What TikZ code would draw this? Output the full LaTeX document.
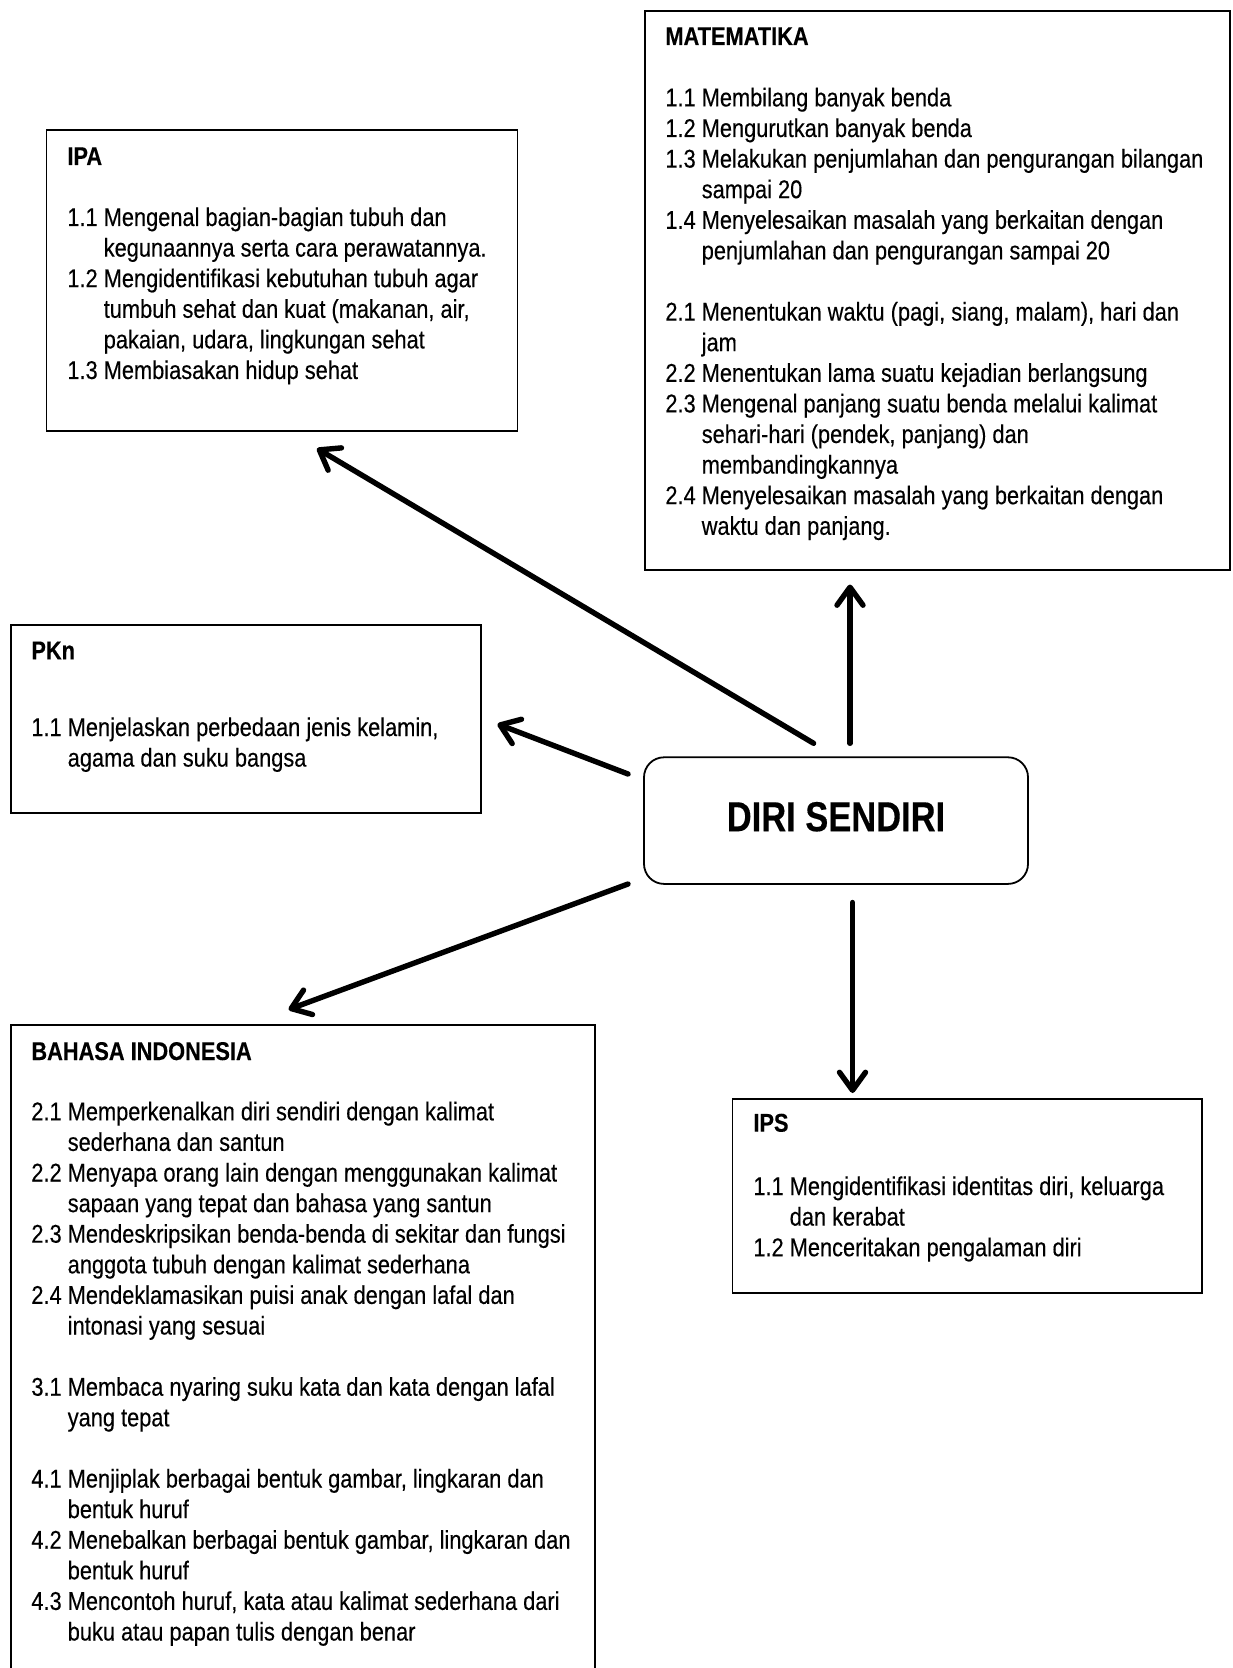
\documentclass[tikz,border=0pt]{standalone}
\usepackage{fontspec}
\setmainfont[FakeStretch=0.848,
  UprightFeatures={FakeBold=0.3},
  BoldFeatures={FakeBold=0.25}]{Liberation Sans}
\newfontfamily\bigfont[FakeStretch=0.823, BoldFeatures={FakeBold=0.3}]{Liberation Sans}
\usetikzlibrary{arrows.meta}

\begin{document}
\begin{tikzpicture}[x=0.5pt,y=-0.5pt,
  box/.style={draw, line width=0.9pt, rectangle, inner sep=0pt, anchor=north west},
  body/.style={anchor=base west, inner sep=0pt, align=left,
    font=\fontsize{12.85}{15.3}\selectfont},
  title/.style={anchor=base west, inner sep=0pt,
    font=\fontsize{12.85}{15.3}\selectfont\bfseries},
  link/.style={line width=2.7pt, line cap=round,
    -{Straight Barb[length=9pt,width=13pt,round]}}]

\clip (0,0) rectangle (1232,1668);
\fill[white] (0,0) rectangle (1232,1668);

% ---------- subject boxes ----------
\node[box, minimum width=235.5pt, minimum height=150.4pt] (ipa) at (45.5,129.3) {};
\node[title] (ipaT) at (67,165) {IPA};
\node[body] (ipaL) at (67,226) {\begin{tabular}[t]{@{}l@{\ }l@{}}
1.1 & Mengenal bagian-bagian tubuh dan\\
    & kegunaannya serta cara perawatannya.\\
1.2 & Mengidentifikasi kebutuhan tubuh agar\\
    & tumbuh sehat dan kuat (makanan, air,\\
    & pakaian, udara, lingkungan sehat\\
1.3 & Membiasakan hidup sehat
\end{tabular}};

\node[box, minimum width=292.4pt, minimum height=279.65pt] (mat) at (644,10) {};
\node[title] (matT) at (665,45) {MATEMATIKA};
\node[body] (matL) at (665,106.4) {\begin{tabular}[t]{@{}l@{\ }l@{}}
1.1 & Membilang banyak benda\\
1.2 & Mengurutkan banyak benda\\
1.3 & Melakukan penjumlahan dan pengurangan bilangan\\
    & sampai 20\\
1.4 & Menyelesaikan masalah yang berkaitan dengan\\
    & penjumlahan dan pengurangan sampai 20\\
    & \\
2.1 & Menentukan waktu (pagi, siang, malam), hari dan\\
    & jam\\
2.2 & Menentukan lama suatu kejadian berlangsung\\
2.3 & Mengenal panjang suatu benda melalui kalimat\\
    & sehari-hari (pendek, panjang) dan\\
    & membandingkannya\\
2.4 & Menyelesaikan masalah yang berkaitan dengan\\
    & waktu dan panjang.
\end{tabular}};

\node[box, minimum width=235.25pt, minimum height=94.15pt] (pkn) at (9.9,624) {};
\node[title] (pknT) at (31,659.3) {PKn};
\node[body] (pknL) at (31,736) {\begin{tabular}[t]{@{}l@{\ }l@{}}
1.1 & Menjelaskan perbedaan jenis kelamin,\\
    & agama dan suku bangsa
\end{tabular}};

\node[box, minimum width=234.7pt, minimum height=97.15pt] (ips) at (731.6,1098) {};
\node[title] (ipsT) at (753,1131.7) {IPS};
\node[body] (ipsL) at (753,1195) {\begin{tabular}[t]{@{}l@{\ }l@{}}
1.1 & Mengidentifikasi identitas diri, keluarga\\
    & dan kerabat\\
1.2 & Menceritakan pengalaman diri
\end{tabular}};

\node[box, minimum width=292.05pt, minimum height=340pt] (bi) at (9.9,1024) {};
\node[title] (biT) at (31,1060) {BAHASA INDONESIA};
\node[body] (biL) at (31,1120.3) {\begin{tabular}[t]{@{}l@{\ }l@{}}
2.1 & Memperkenalkan diri sendiri dengan kalimat\\
    & sederhana dan santun\\
2.2 & Menyapa orang lain dengan menggunakan kalimat\\
    & sapaan yang tepat dan bahasa yang santun\\
2.3 & Mendeskripsikan benda-benda di sekitar dan fungsi\\
    & anggota tubuh dengan kalimat sederhana\\
2.4 & Mendeklamasikan puisi anak dengan lafal dan\\
    & intonasi yang sesuai\\
    & \\
3.1 & Membaca nyaring suku kata dan kata dengan lafal\\
    & yang tepat\\
    & \\
4.1 & Menjiplak berbagai bentuk gambar, lingkaran dan\\
    & bentuk huruf\\
4.2 & Menebalkan berbagai bentuk gambar, lingkaran dan\\
    & bentuk huruf\\
4.3 & Mencontoh huruf, kata atau kalimat sederhana dari\\
    & buku atau papan tulis dengan benar
\end{tabular}};

% ---------- central topic ----------
\node[draw, line width=0.9pt, rounded corners=10pt, inner sep=0pt,
  minimum width=192pt, minimum height=63.3pt,
  text height=15pt, text depth=4.4pt,
  font=\bigfont\fontsize{20.95}{24}\selectfont\bfseries] (diri) at (836,820.6) {DIRI SENDIRI};

% ---------- connector end points ----------
\coordinate (tIPA) at (813.6,743.3);  \coordinate (hIPA) at (317,448.5);
\coordinate (tMAT) at (850,743.3);    \coordinate (hMAT) at (850,584.5);
\coordinate (tPKN) at (628,774);      \coordinate (hPKN) at (497.5,724);
\coordinate (tBI)  at (628,884);      \coordinate (hBI)  at (288.6,1009.5);
\coordinate (tIPS) at (852.5,902.5);  \coordinate (hIPS) at (852.5,1093);

\draw[link] (tIPA) -- (hIPA);
\draw[link] (tMAT) -- (hMAT);
\draw[link] (tPKN) -- (hPKN);
\draw[link] (tBI) -- (hBI);
\draw[link] (tIPS) -- (hIPS);
\end{tikzpicture}
\end{document}
